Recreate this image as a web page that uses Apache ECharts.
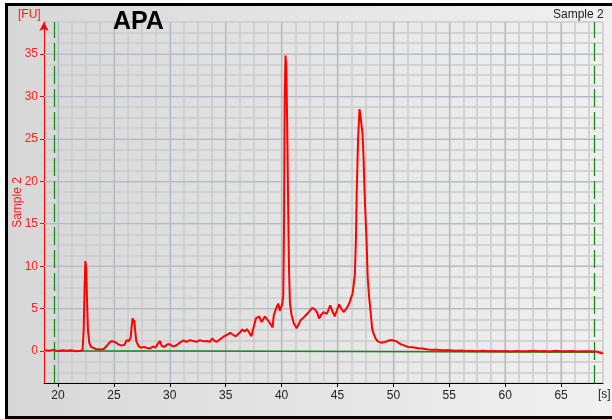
<!DOCTYPE html>
<html>
<head>
<meta charset="utf-8">
<style>
  html, body { margin: 0; padding: 0; background: #ffffff; }
  #wrap { position: relative; width: 612px; height: 419px; overflow: hidden; }
  #panel {
    position: absolute; left: 5px; top: 3px; width: 620px; height: 410px;
    border: 3px solid #000;
    background: linear-gradient(to right, #d7d7d7 0%, #e4e4e4 45%, #f1f1f1 100%);
  }
  #chart { position: absolute; left: 0; top: 0; width: 612px; height: 419px; }
</style>
<script src="https://cdn.jsdelivr.net/npm/echarts@6/dist/echarts.min.js"></script>
</head>
<body>
<div id="wrap">
  <div id="panel"></div>
  <div id="chart"></div>
</div>
<script>
// Electropherogram trace: migration time [s] vs fluorescence [FU]
const timeSec = [
  18.8, 19.2, 19.6, 20.0, 20.4, 20.8, 21.2, 21.6, 22.0, 22.2,
  22.3, 22.38, 22.45, 22.52, 22.6, 22.68, 22.8, 22.95, 23.1, 23.4,
  23.8, 24.1, 24.35, 24.6, 24.8, 25.0, 25.2, 25.4, 25.7, 25.95,
  26.15, 26.35, 26.5, 26.6, 26.68, 26.75, 26.82, 26.9, 27.0, 27.2,
  27.4, 27.7, 27.9, 28.2, 28.5, 28.7, 28.9, 29.1, 29.3, 29.5,
  29.8, 30.0, 30.3, 30.6, 30.9, 31.2, 31.5, 31.8, 32.1, 32.4,
  32.7, 33.0, 33.3, 33.6, 33.8, 34.0, 34.2, 34.5, 34.8, 35.1,
  35.4, 35.7, 35.9, 36.2, 36.5, 36.7, 36.9, 37.1, 37.3, 37.5,
  37.7, 37.85, 38.0, 38.2, 38.35, 38.5, 38.65, 38.8, 39.0, 39.2,
  39.3, 39.5, 39.7, 39.85, 40.05, 40.15, 40.22, 40.28, 40.35, 40.42,
  40.5, 40.58, 40.66, 40.75, 40.9, 41.1, 41.35, 41.5, 41.7, 42.0,
  42.3, 42.55, 42.75, 43.0, 43.2, 43.35, 43.55, 43.75, 44.05, 44.35,
  44.55, 44.75, 44.95, 45.15, 45.35, 45.55, 45.8, 46.05, 46.35, 46.55,
  46.65, 46.73, 46.85, 46.97, 47.03, 47.1, 47.24, 47.33, 47.4, 47.47,
  47.6, 47.7, 47.83, 47.98, 48.1, 48.25, 48.4, 48.6, 48.9, 49.3,
  49.6, 49.8, 50.2, 50.5, 50.7, 51.0, 51.3, 51.7, 52.0, 52.2,
  52.6, 53.1, 53.5, 54.0, 54.5, 55.0, 55.5, 56.0, 56.5, 57.0,
  57.5, 58.0, 58.5, 59.0, 59.5, 60.0, 60.5, 61.0, 61.5, 62.0,
  62.5, 63.0, 63.5, 64.0, 64.5, 65.0, 65.5, 66.0, 66.5, 67.0,
  67.5, 68.0, 68.3, 68.6, 68.75
];
const fluorescence = [
  0.10, 0.05, 0.15, 0.00, 0.10, 0.05, 0.10, 0.00, 0.05, 0.10,
  2.5, 7.5, 10.6, 9.8, 6.0, 2.5, 1.0, 0.5, 0.3, 0.25,
  0.2, 0.25, 0.6, 1.0, 1.2, 1.1, 1.0, 0.8, 0.65, 0.75,
  1.3, 1.2, 1.6, 3.0, 3.9, 3.3, 3.7, 2.5, 1.2, 0.6,
  0.4, 0.5, 0.4, 0.3, 0.55, 0.4, 0.8, 1.2, 0.6, 0.5,
  0.8, 0.8, 0.55, 0.7, 1.0, 1.25, 1.1, 1.3, 1.2, 1.1,
  1.3, 1.15, 1.2, 1.1, 1.5, 1.2, 1.1, 1.4, 1.7, 1.9,
  2.15, 1.9, 1.75, 2.1, 2.55, 2.3, 2.6, 2.2, 1.75, 2.8,
  3.85, 3.9, 4.1, 3.45, 3.7, 4.1, 3.9, 3.6, 3.2, 2.8,
  4.2, 5.0, 5.6, 4.75, 5.5, 6.5, 15.0, 30.0, 34.8, 33.5,
  27.0, 18.0, 10.0, 5.6, 4.2, 3.25, 2.7, 3.1, 3.65, 4.0,
  4.4, 4.8, 5.1, 4.9, 4.5, 3.85, 4.3, 4.6, 4.4, 5.4,
  4.7, 4.1, 4.8, 5.5, 5.0, 4.6, 5.0, 5.6, 6.8, 8.9,
  13.1, 19.3, 25.2, 28.5, 28.0, 28.1, 25.6, 22.9, 19.7, 17.0,
  13.1, 8.7, 6.4, 4.4, 2.65, 2.0, 1.5, 1.15, 1.0, 1.1,
  1.25, 1.3, 1.2, 0.95, 0.8, 0.65, 0.5, 0.45, 0.4, 0.35,
  0.3, 0.2, 0.15, 0.15, 0.10, 0.12, 0.05, 0.08, 0.02, 0.05,
  0.00, 0.05, 0.00, 0.03, -0.02, 0.02, -0.03, 0.02, -0.02, 0.00,
  0.05, -0.02, 0.02, -0.03, 0.05, 0.00, -0.02, 0.02, -0.03, 0.00,
  -0.02, -0.05, -0.10, -0.25, -0.25
];

// Baseline fitted under the trace (two segments)
const baselineTime = [19.7, 31.75, 31.75, 68.0];
const baselineLevel = [0.03, 0.03, -0.13, -0.13];

// Lower / upper marker positions [s]
const markerTimes = [19.7, 68.0];

// Labelled ticks and major grid positions
const xTicks = [20, 25, 30, 35, 40, 45, 50, 55, 60, 65];
const yTicks = [0, 5, 10, 15, 20, 25, 30, 35];

const traceData = timeSec.map((t, i) => [t, fluorescence[i]]);
const baselineData = baselineTime.map((t, i) => [t, baselineLevel[i]]);

const chart = echarts.init(document.getElementById('chart'), null, { renderer: 'canvas' });

const labelFont = '"Liberation Sans", Arial, sans-serif';
const X_RANGE = { min: 18.75, max: 68.75, interval: 1.25 };
const Y_RANGE = { min: -3.75, max: 38.75, interval: 1.25 };

chart.setOption({
  backgroundColor: 'transparent',
  animation: false,
  grid: { left: 44, top: 22, width: 559, height: 361, containLabel: false, outerBoundsMode: 'none' },
  xAxis: [
    { // fine grid every 1.25 s
      type: 'value', ...X_RANGE,
      axisLine: { show: false },
      axisTick: { show: false },
      axisLabel: { show: false },
      splitLine: { show: true, lineStyle: { color: '#cbcbcb', width: 1.5 } }
    },
    { // labelled axis
      type: 'value', ...X_RANGE, position: 'bottom',
      axisLine: { show: true, onZero: false, lineStyle: { color: '#000', width: 1 } },
      axisTick: { show: true, customValues: xTicks, length: 4, lineStyle: { color: '#000', width: 1 } },
      axisLabel: { customValues: xTicks, color: '#222', fontSize: 12, margin: 7, fontFamily: labelFont },
      splitLine: { show: false }
    }
  ],
  yAxis: [
    {
      type: 'value', ...Y_RANGE,
      axisLine: { show: false },
      axisTick: { show: false },
      axisLabel: { show: false },
      splitLine: { show: true, lineStyle: { color: '#cbcbcb', width: 1.5 } }
    },
    {
      type: 'value', ...Y_RANGE, position: 'left',
      name: 'Sample 2', nameLocation: 'middle', nameGap: 20, nameMoveOverlap: false,
      nameTextStyle: { color: '#ff1a1a', fontSize: 12, fontFamily: labelFont },
      axisLine: {
        show: true, onZero: false,
        symbol: ['none', 'arrow'], symbolSize: [7, 9],
        lineStyle: { color: '#ff0000', width: 1 }
      },
      axisTick: { show: true, customValues: yTicks, length: 4, lineStyle: { color: '#ff0000', width: 1 } },
      axisLabel: { customValues: yTicks, color: '#ff2020', fontSize: 12, margin: 6, fontFamily: labelFont },
      splitLine: { show: false }
    }
  ],
  series: [
    {
      name: 'major grid',
      type: 'line',
      data: [],
      z: 1,
      silent: true,
      markLine: {
        z: 1,
        silent: true,
        symbol: ['none', 'none'],
        label: { show: false },
        lineStyle: { color: '#b1bacb', width: 1.2, type: 'solid' },
        emphasis: { disabled: true },
        data: xTicks.map(v => ({ xAxis: v })).concat(yTicks.map(v => ({ yAxis: v })))
      }
    },
    {
      name: 'baseline',
      type: 'line',
      data: baselineData,
      showSymbol: false,
      z: 3,
      silent: true,
      lineStyle: { color: '#168a16', width: 1.5 },
      markLine: {
        z: 3,
        silent: true,
        symbol: ['none', 'none'],
        label: { show: false },
        lineStyle: { color: '#168a16', width: 1.3, type: [18, 5] },
        emphasis: { disabled: true },
        data: markerTimes.map(v => ({ xAxis: v }))
      }
    },
    {
      name: 'Sample 2',
      type: 'line',
      data: traceData,
      showSymbol: false,
      z: 5,
      lineStyle: { color: '#ff0000', width: 2 }
    }
  ],
  graphic: [
    { type: 'text', left: 113, top: 10, z: 10,
      style: { text: 'APA', font: 'bold 25px "Liberation Sans", Arial, sans-serif', fill: '#000' } },
    { type: 'text', left: 18, top: 9, z: 10,
      style: { text: '[FU]', font: '12px "Liberation Sans", Arial, sans-serif', fill: '#ff1a1a' } },
    { type: 'text', left: 553, top: 9, z: 10,
      style: { text: 'Sample 2', font: '12px "Liberation Sans", Arial, sans-serif', fill: '#222' } },
    { type: 'text', left: 598, top: 389, z: 10,
      style: { text: '[s]', font: '12px "Liberation Sans", Arial, sans-serif', fill: '#222' } }
  ]
});
</script>
</body>
</html>
